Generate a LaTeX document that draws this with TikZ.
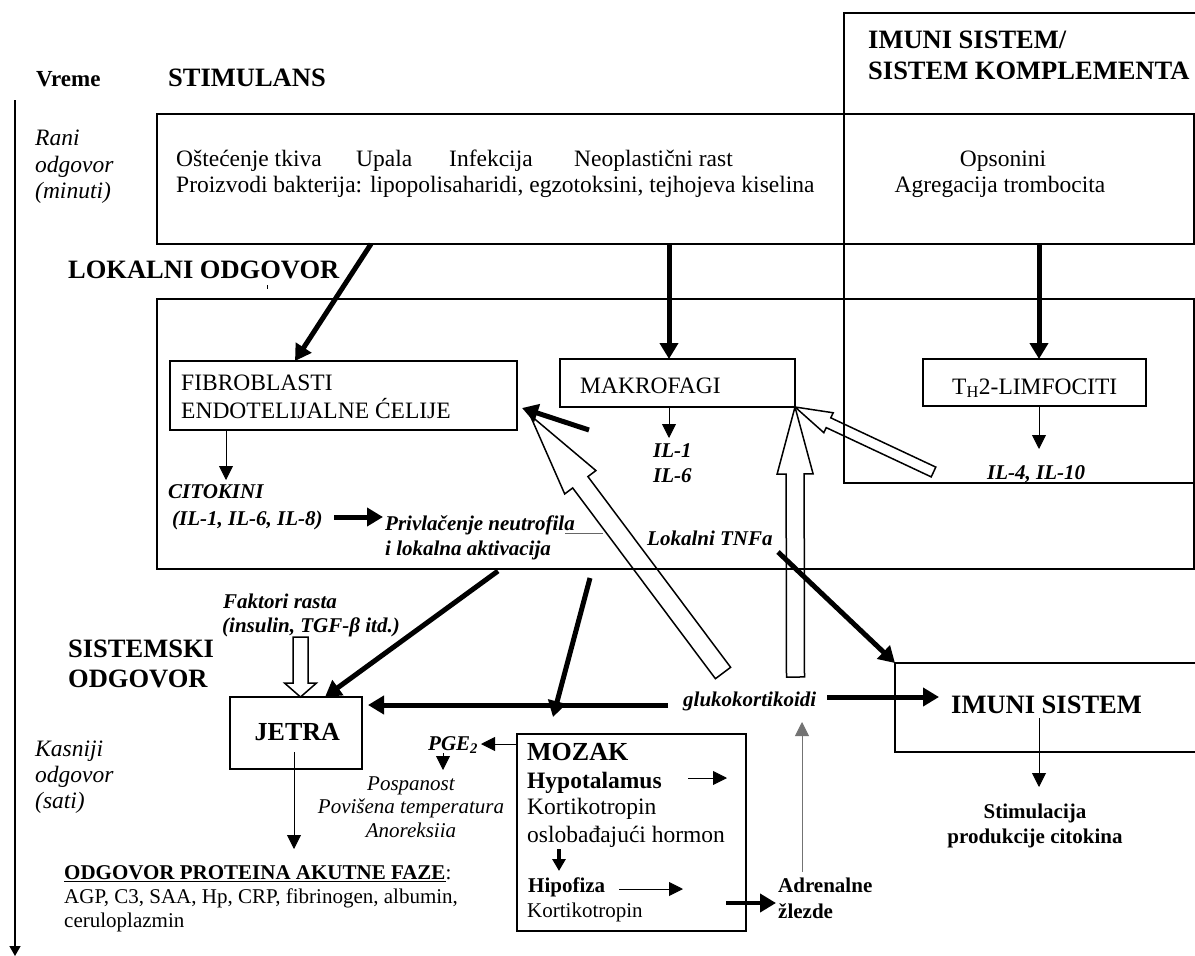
\documentclass[tikz,border=0pt]{standalone}
\usepackage{fontspec}
\setmainfont{Liberation Serif}
\usetikzlibrary{arrows.meta,calc}

% font size helper
\newcommand\fsz[1]{\fontsize{#1}{#1}\selectfont}
% outlined block arrow: tail, tip, half shaft width, half head width, head length
\newcommand\hollowarrow[5]{%
  \coordinate (hb) at ($(#2)!#5pt!(#1)$);
  \draw[hollow] ($(#1)!#3pt!90:(#2)$) -- ($(hb)!#3pt!90:(#2)$) -- ($(hb)!#4pt!90:(#2)$)
    -- (#2) -- ($(hb)!#4pt!-90:(#2)$) -- ($(hb)!#3pt!-90:(#2)$) -- ($(#1)!#3pt!-90:(#2)$) -- cycle;
}

\begin{document}
\begin{tikzpicture}[x=1pt,y=-1pt,
  box/.style={draw, line width=1.6pt, inner sep=0pt, outer sep=0pt},
  txt/.style={inner sep=0pt, anchor=base west},
  ctxt/.style={inner sep=0pt, anchor=base},
  head/.style={font=\fsz{26.5}\bfseries},
  body/.style={font=\fsz{23.5}},
  ital/.style={font=\fsz{23.5}\itshape},
  bi/.style={font=\fsz{21}\bfseries\itshape},
  small/.style={font=\fsz{21}},
  smallb/.style={font=\fsz{21}\bfseries},
  smalli/.style={font=\fsz{21}\itshape},
  thickarr/.style={line width=5pt, -{Triangle[length=16pt,width=18pt]}},
  medarr/.style={line width=3.5pt, -{Triangle[length=12pt,width=13pt]}},
  thinarr/.style={line width=0.9pt, -{Triangle[length=14pt,width=14pt]}},
  hollow/.style={draw, line width=1.5pt, line join=miter}]

\useasboundingbox (0,0) rectangle (1195,956);

% ---- boxes ----
\node[box, minimum width=354pt, minimum height=470pt] (imcol) at (1021,248) {};
\node[box, minimum width=1037pt, minimum height=130pt] (stim) at (675.5,179) {};
\node[box, minimum width=1037pt, minimum height=270pt] (lok) at (675.5,434) {};
\node[box, minimum width=347pt, minimum height=69pt] (fib) at (343.5,395.5) {};
\node[box, minimum width=235pt, minimum height=48pt] (mak) at (677.5,383) {};
\node[box, minimum width=223pt, minimum height=47pt] (th2) at (1034.5,382.5) {};
\node[box, minimum width=132pt, minimum height=72pt] (jetra) at (296,733) {};
\node[box, line width=2pt, minimum width=229pt, minimum height=197pt] (mozak) at (631.5,832.5) {};
\node[box, minimum width=303pt, minimum height=89pt] (imuni) at (1046.5,707.5) {};

% ---- texts ----
\node[txt, font=\fsz{23}\bfseries] (vreme) at (36,86) {Vreme};
\node[txt, head] (stimh) at (168,86) {STIMULANS};
\node[txt, head] (imh1) at (868,48) {IMUNI SISTEM/};
\node[txt, head] (imh2) at (868,79) {SISTEM KOMPLEMENTA};

\node[txt, ital] (rani1) at (35,145) {Rani};
\node[txt, ital] (rani2) at (35,172) {odgovor};
\node[txt, ital] (rani3) at (35,198) {(minuti)};

\node[txt, body] (s1) at (176,166) {Oštećenje tkiva};
\node[txt, body] (s2) at (356,166) {Upala};
\node[txt, body] (s3) at (449,166) {Infekcija};
\node[txt, body] (s4) at (574,166) {Neoplastični rast};
\node[txt, body] (s5) at (176,192) {Proizvodi bakterija: lipopolisaharidi, egzotoksini, tejhojeva kiselina};
\node[ctxt, body] (ops) at (1003,166) {Opsonini};
\node[ctxt, body] (agr) at (1000,192) {Agregacija trombocita};

\node[txt, head] (lokh) at (68,278) {LOKALNI ODGOVOR};
\draw[line width=1.2pt] (267.3,285) -- (267.3,289);

\node[txt, body] (fib1) at (181,390) {FIBROBLASTI};
\node[txt, body] (fib2) at (181,418) {ENDOTELIJALNE ĆELIJE};
\node[txt, body] (makt) at (580,393) {MAKROFAGI};
\node[txt, body] (th2t) at (952,394) {T\textsubscript{H}2-LIMFOCITI};

\node[txt, bi] (cit1) at (168,498) {CITOKINI};
\node[txt, bi] (cit2) at (172,525) {(IL-1, IL-6, IL-8)};
\node[txt, bi] (pri1) at (385,530) {Privlačenje neutrofila};
\node[txt, bi] (pri2) at (385,555) {i lokalna aktivacija};
\node[txt, bi] (il1) at (653,457) {IL-1};
\node[txt, bi] (il6) at (653,482) {IL-6};
\node[txt, bi] (il4) at (987,479) {IL-4, IL-10};
\node[txt, bi] (tnf) at (647,545) {Lokalni TNFa};

\node[txt, bi] (fak1) at (223,608) {Faktori rasta};
\node[txt, bi] (fak2) at (222,632) {(insulin, TGF-β itd.)};
\node[txt, head] (sis1) at (68,657) {SISTEMSKI};
\node[txt, head] (sis2) at (68,687) {ODGOVOR};

\node[txt, bi] (gluk) at (683,706) {glukokortikoidi};
\node[txt, head] (imt) at (951,713) {IMUNI SISTEM};
\node[txt, font=\fsz{26}\bfseries] (jt) at (254.5,740) {JETRA};
\node[txt, bi] (pge) at (428,750) {PGE\textsubscript{2}};

\node[txt, font=\fsz{26}\bfseries] (moz1) at (527,760) {MOZAK};
\node[txt, font=\fsz{23.5}\bfseries] (moz2) at (527,788) {Hypotalamus};
\node[txt, body] (moz3) at (527,814) {Kortikotropin};
\node[txt, body] (moz4) at (527,842) {oslobađajući hormon};
\node[txt, smallb] (moz5) at (528,892) {Hipofiza};
\node[txt, small] (moz6) at (527,917) {Kortikotropin};

\node[txt, ital] (kas1) at (35,756) {Kasniji};
\node[txt, ital] (kas2) at (35,782) {odgovor};
\node[txt, ital] (kas3) at (35,808) {(sati)};

\node[ctxt, smalli] (pos1) at (411,790) {Pospanost};
\node[ctxt, smalli] (pos2) at (411,813) {Povišena temperatura};
\node[ctxt, smalli] (pos3) at (411,837) {Anoreksiia};

\node[ctxt, smallb] (stm1) at (1035,818) {Stimulacija};
\node[ctxt, smallb] (stm2) at (1035,843) {produkcije citokina};

\node[txt, smallb] (app1) at (64,879) {\underline{ODGOVOR PROTEINA AKUTNE FAZE}\mdseries:};
\node[txt, small] (app2) at (64,903) {AGP, C3, SAA, Hp, CRP, fibrinogen, albumin,};
\node[txt, small] (app3) at (64,927) {ceruloplazmin};

\node[txt, smallb] (adr1) at (778,892) {Adrenalne};
\node[txt, smallb] (adr2) at (778,918) {žlezde};

% ---- time axis ----
\coordinate (tl0) at (15,100);
\coordinate (tl1) at (15,956);
\draw[line width=1.3pt, -{Triangle[length=10pt,width=11pt]}] (tl0) -- (tl1);

% ---- connector end points ----
\coordinate (xm) at (669,0);
\coordinate (xt) at (1039,0);
\coordinate (a1s) at (371,244);  \coordinate (a1e) at (295,361);
\coordinate (c1) at (226,430);   \coordinate (c2) at (226,480);
\coordinate (m1) at (669,438);
\coordinate (t1) at (1039,449);
\coordinate (k1) at (334,517);   \coordinate (k2) at (383,517);
\coordinate (f1) at (589,430);   \coordinate (f2) at (522,408);
\coordinate (n1) at (565,533);   \coordinate (n2) at (603,533);
\coordinate (j1) at (498,571);   \coordinate (j2) at (325,697);
\coordinate (b1) at (590,578);   \coordinate (b2) at (553,717);
\coordinate (g1) at (668,705);   \coordinate (g2) at (368,705);
\coordinate (g3) at (827,697);   \coordinate (g4) at (939,697);
\coordinate (l1) at (778,552);
\coordinate (p1) at (517,744);   \coordinate (p2) at (481,744);
\coordinate (p3) at (443,753);   \coordinate (p4) at (443,770);
\coordinate (h1) at (688,778);   \coordinate (h2) at (727,778);
\coordinate (d1) at (559,849);   \coordinate (d2) at (559,871);
\coordinate (q1) at (619,889);   \coordinate (q2) at (683,889);
\coordinate (r1) at (726,903);   \coordinate (r2) at (776,903);
\coordinate (e1) at (802,872);   \coordinate (e2) at (802,722);
\coordinate (v1) at (294,752);   \coordinate (v2) at (294,849);
\coordinate (w1) at (1039,718);  \coordinate (w2) at (1039,787);

% ---- thick arrows ----
\draw[thickarr] (a1s) -- (a1e);
\draw[thickarr] (stim.south -| xm) -- (mak.north -| xm);
\draw[thickarr] (stim.south -| xt) -- (th2.north -| xt);
\draw[thickarr] (k1) -- (k2);
\draw[thickarr] (f1) -- (f2);
\draw[thickarr] (j1) -- (j2);
\draw[thickarr] (b1) -- (b2);
\draw[thickarr] (g1) -- (g2);
\draw[thickarr] (g3) -- (g4);
\draw[thickarr] (l1) -- (imuni.north west);
\draw[thickarr, line width=4.5pt] (r1) -- (r2);
\draw[medarr] (d1) -- (d2);

% ---- thin arrows ----
\draw[thinarr] (c1) -- (c2);
\draw[thinarr] (mak.south -| xm) -- (m1);
\draw[thinarr] (th2.south -| xt) -- (t1);
\draw[thinarr] (p1) -- (p2);
\draw[thinarr] (p3) -- (p4);
\draw[thinarr] (h1) -- (h2);
\draw[thinarr] (q1) -- (q2);
\draw[thinarr, draw=black!55] (e1) -- (e2);
\draw[thinarr] (v1) -- (v2);
\draw[thinarr] (w1) -- (w2);
\draw[line width=0.9pt, black!60] (n1) -- (n2);

% ---- outlined block arrows ----
\coordinate (ha) at (723,673);   \coordinate (hap) at (530,415);
\hollowarrow{ha}{hap}{9.5}{19.5}{84}
\coordinate (hc) at (795.5,677);
\hollowarrow{hc}{mak.south east}{9}{18}{67}
\coordinate (hd) at (933.5,472);
\hollowarrow{hd}{mak.south east}{5.4}{11}{37}
\coordinate (he) at (300.5,637); \coordinate (hep) at (300.5,697);
\hollowarrow{he}{hep}{7.5}{16}{14}

\end{tikzpicture}
\end{document}
